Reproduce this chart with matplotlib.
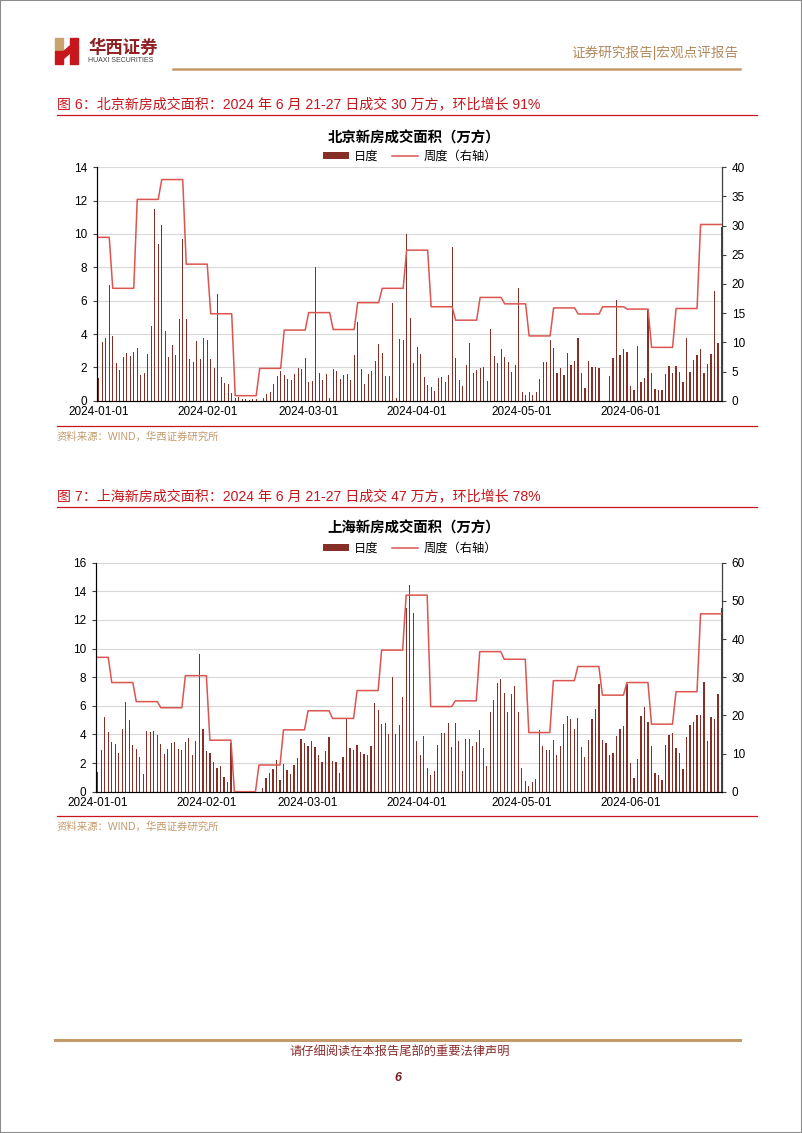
import matplotlib.pyplot as plt
import matplotlib.dates as mdates
from matplotlib.patches import Rectangle, Polygon, Patch
from matplotlib.lines import Line2D
import pandas as pd

plt.rcParams['font.family'] = ['Liberation Sans', 'Noto Sans CJK SC']

W, H = 802, 1133

days = pd.date_range('2024-01-01', '2024-06-27', freq='D')
# weeks run Fri-Thu, first one is cut at Jan 1
week_starts = [pd.Timestamp('2024-01-01')] + list(pd.date_range('2024-01-05', '2024-06-21', freq='7D'))

# Beijing, daily (10k m2)
bj_daily = [
    1.34, 3.54, 3.74, 6.94, 3.88, 2.24, 1.84, 2.64, 2.84, 2.68,
    2.94, 3.14, 1.54, 1.64, 2.80, 4.48, 11.48, 9.38, 10.54, 4.18,
    2.60, 3.34, 2.74, 4.90, 9.68, 4.88, 2.48, 2.30, 3.58, 2.48,
    3.78, 3.64, 2.48, 1.98, 6.40, 1.44, 1.08, 0.98, 0.44, 0.14,
    0.24, 0.10, 0.08, 0.06, 0.10, 0.08, 0.00, 0.18, 0.40, 0.50,
    0.98, 1.50, 1.80, 1.54, 1.28, 1.24, 1.58, 1.98, 1.90, 2.54,
    1.14, 1.20, 8.04, 1.68, 1.24, 1.58, 0.15, 1.90, 1.80, 1.32,
    1.52, 1.58, 1.26, 2.74, 4.70, 1.88, 1.00, 1.60, 1.78, 2.38,
    3.40, 2.84, 1.50, 1.50, 5.88, 0.15, 3.68, 3.64, 9.98, 4.94,
    2.24, 3.24, 2.80, 1.44, 0.94, 0.80, 0.60, 1.34, 1.44, 1.14,
    1.54, 9.24, 2.54, 1.24, 0.88, 2.14, 3.44, 1.64, 1.84, 1.98,
    2.04, 1.20, 4.28, 2.68, 2.24, 3.08, 2.64, 2.34, 1.74, 2.14,
    6.78, 0.54, 0.34, 0.50, 0.34, 0.50, 1.30, 2.30, 2.34, 3.64,
    3.18, 1.68, 1.94, 1.54, 2.84, 2.14, 2.38, 3.74, 1.68, 0.78,
    2.40, 2.04, 2.04, 1.98, 0.00, 0.00, 1.50, 2.58, 6.04, 2.74,
    3.08, 2.94, 0.88, 0.64, 3.28, 1.14, 1.38, 5.44, 1.68, 0.70,
    0.64, 0.64, 1.60, 2.10, 1.68, 2.10, 1.74, 1.14, 3.78, 1.74,
    2.44, 2.74, 3.08, 1.68, 2.18, 2.80, 6.58, 3.44, 10.40,
]
# Beijing, weekly total (right axis)
bj_weekly = [28.0, 19.26, 34.5, 37.9, 23.4, 14.9, 0.86, 5.54, 12.1, 15.1, 12.2, 16.8, 19.26,
             25.8, 16.1, 13.8, 17.7, 16.6, 11.1, 15.9, 14.86, 16.1, 15.7, 9.14, 15.8, 30.2]

# Shanghai, daily
sh_daily = [
    1.35, 2.91, 5.24, 4.19, 3.49, 3.33, 2.68, 4.38, 6.29, 5.01,
    3.26, 2.96, 2.40, 1.21, 4.24, 4.15, 4.24, 3.96, 3.33, 2.63,
    2.98, 3.38, 3.45, 2.96, 2.91, 3.45, 3.73, 2.56, 3.54, 9.60,
    4.38, 2.84, 2.68, 2.10, 1.68, 1.82, 1.00, 0.65, 3.38, 0.00,
    0.00, 0.00, 0.00, 0.00, 0.00, 0.00, 0.00, 0.23, 0.93, 1.28,
    1.56, 2.21, 0.82, 1.93, 1.51, 1.21, 1.86, 2.33, 3.66, 3.42,
    3.19, 3.54, 3.10, 2.56, 2.10, 2.84, 3.84, 2.14, 2.10, 1.28,
    2.40, 5.17, 3.03, 2.91, 3.26, 2.77, 2.61, 2.56, 3.21, 6.22,
    5.71, 4.73, 4.82, 4.03, 7.99, 4.03, 4.66, 6.64, 12.81, 14.44,
    12.46, 3.54, 2.56, 3.89, 1.63, 1.16, 1.44, 3.26, 4.12, 4.12,
    4.82, 3.14, 4.82, 3.56, 1.47, 3.66, 3.68, 3.21, 3.49, 4.31,
    3.03, 1.79, 5.59, 6.40, 7.62, 7.85, 6.87, 5.59, 6.82, 7.41,
    5.59, 1.63, 0.75, 0.42, 0.65, 0.88, 4.31, 3.19, 2.91, 2.91,
    3.61, 2.56, 3.19, 4.73, 5.31, 5.08, 4.38, 5.17, 3.10, 2.40,
    3.61, 5.08, 5.75, 7.50, 3.61, 3.42, 2.56, 2.72, 3.89, 4.38,
    4.61, 7.52, 1.98, 0.93, 2.26, 5.29, 5.94, 4.89, 3.19, 1.28,
    1.16, 0.82, 3.26, 3.96, 4.08, 3.07, 2.68, 1.56, 3.84, 4.66,
    4.89, 5.36, 5.36, 7.69, 3.54, 5.24, 5.08, 6.80, 12.81,
]
sh_weekly = [35.2, 28.6, 23.6, 22.0, 30.4, 13.5, 0.0, 7.0, 16.2, 21.2, 19.2, 26.5, 37.1,
             51.5, 22.3, 23.8, 36.7, 34.7, 15.5, 29.1, 32.8, 25.3, 28.6, 17.7, 26.2, 46.6]

BAR_C = '#862F26'
LINE_C = '#DC5550'
GOLD = '#C29A6B'
RED = '#C8161D'

fig = plt.figure(figsize=(W / 100, H / 100), dpi=100)


def fx(px):
    return px / W


def fy(py):
    return 1 - py / H


def draw_chart(box, daily, weekly, lmax, lstep, rmax, rstep):
    left, top, right, bottom = box
    ax = fig.add_axes([fx(left), fy(bottom), (right - left) / W, (bottom - top) / H])
    ax.bar(days, daily, width=0.35, color=BAR_C, zorder=2)
    ax.set_xlim(days[0] - pd.Timedelta(hours=12), days[-1] + pd.Timedelta(hours=3))
    ax.set_ylim(0, lmax)
    ax.set_yticks(range(0, lmax + 1, lstep))
    ax.xaxis.set_major_locator(mdates.MonthLocator())
    ax.xaxis.set_major_formatter(mdates.DateFormatter('%Y-%m-%d'))
    ax.yaxis.grid(True, color='#D9D9D9', lw=0.8)
    ax.set_axisbelow(True)
    ax.tick_params(axis='x', length=0, labelsize=8.5, pad=4)
    ax.tick_params(axis='y', length=3, width=0.8, labelsize=8.5, color='#404040', pad=4)
    ax.spines['top'].set_visible(False)
    for s in ['left', 'bottom']:
        ax.spines[s].set_color('#404040')
        ax.spines[s].set_linewidth(0.8)

    ax2 = ax.twinx()
    xs, ys = [], []
    for i, v in enumerate(weekly):
        start = week_starts[i]
        if i + 1 < len(week_starts):
            end = week_starts[i + 1] - pd.Timedelta(days=1)
        else:
            end = days[-1]
        xs += [start, end]
        ys += [v, v]
    ax2.plot(xs, ys, color=LINE_C, lw=1.1, zorder=3)
    ax2.set_ylim(0, rmax)
    ax2.set_yticks(range(0, rmax + 1, rstep))
    ax2.tick_params(axis='y', length=3, width=0.8, labelsize=8.5, color='#404040', pad=4)
    ax2.spines['top'].set_visible(False)
    ax2.spines['right'].set_color('#404040')
    ax2.spines['right'].set_linewidth(0.8)
    return ax


def add_block(cap, title, cap_y, title_y, leg_y, box, daily, weekly, lmax, lstep, rmax, rstep, src_line_y):
    fig.text(fx(57), fy(cap_y), cap, color=RED, fontsize=10.1, va='center', ha='left')
    fig.add_artist(Line2D([fx(57), fx(757)], [fy(cap_y + 11), fy(cap_y + 11)], color=RED, lw=0.9))
    fig.text(fx(414), fy(title_y), title, fontsize=10.4, fontweight='bold', va='center', ha='center')
    handles = [Patch(facecolor=BAR_C), Line2D([], [], color=LINE_C, lw=1.1)]
    fig.legend(handles, ['日度', '周度（右轴）'], loc='center', bbox_to_anchor=(fx(410), fy(leg_y)),
               ncol=2, frameon=False, fontsize=8.8, handlelength=2.1, handleheight=0.5,
               columnspacing=1.1, handletextpad=0.45, borderpad=0)
    draw_chart(box, daily, weekly, lmax, lstep, rmax, rstep)
    fig.add_artist(Line2D([fx(57), fx(757)], [fy(src_line_y), fy(src_line_y)], color=RED, lw=0.9))
    fig.text(fx(57), fy(src_line_y + 11), '资料来源：WIND，华西证券研究所', color=GOLD, fontsize=7.5,
             va='center', ha='left')


# page border
fig.add_artist(Rectangle((0, 0), 1, 1, transform=fig.transFigure, fill=False, ec='#8C8C8C', lw=1.5))

# logo
fig.add_artist(Rectangle((fx(55), fy(51)), 8 / W, 13 / H, transform=fig.transFigure, color='#C9A46E'))
fig.add_artist(Rectangle((fx(55), fy(64)), 8 / W, 13 / H, transform=fig.transFigure, color=RED))
fig.add_artist(Rectangle((fx(70), fy(64)), 8 / W, 26 / H, transform=fig.transFigure, color=RED))
fig.add_artist(Polygon([(fx(63), fy(52)), (fx(70), fy(46)), (fx(70), fy(53)), (fx(63), fy(59))],
                       closed=True, transform=fig.transFigure, color=RED))
fig.text(fx(88), fy(47), '华西证券', color='#8E1F22', fontsize=12.5, fontweight='bold', va='center', ha='left')
fig.text(fx(88), fy(60), 'HUAXI SECURITIES', color='#404040', fontsize=5, va='center', ha='left')
fig.text(fx(738), fy(53), '证券研究报告|宏观点评报告', color='#B38A5E', fontsize=9.8, va='center', ha='right')
fig.add_artist(Line2D([fx(173), fx(740)], [fy(69), fy(69)], color=GOLD, lw=1.8))

add_block('图 6：北京新房成交面积：2024 年 6 月 21-27 日成交 30 万方，环比增长 91%',
          '北京新房成交面积（万方）', 104, 138, 157, (97, 167.3, 722, 400.7),
          bj_daily, bj_weekly, 14, 2, 40, 5, 426)

add_block('图 7：上海新房成交面积：2024 年 6 月 21-27 日成交 47 万方，环比增长 78%',
          '上海新房成交面积（万方）', 496, 528, 549, (96, 562.7, 722, 791.7),
          sh_daily, sh_weekly, 16, 2, 60, 10, 816)

# footer
fig.add_artist(Line2D([fx(55), fx(740)], [fy(1040), fy(1040)], color=GOLD, lw=2.2))
fig.text(fx(400), fy(1052), '请仔细阅读在本报告尾部的重要法律声明', color='#8B2A2A', fontsize=8.8,
         va='center', ha='center')
fig.text(fx(398), fy(1078), '6', color='#7A1F1F', fontsize=9, fontweight='bold', style='italic',
         va='center', ha='center')

fig.savefig('out.png', dpi=100)
